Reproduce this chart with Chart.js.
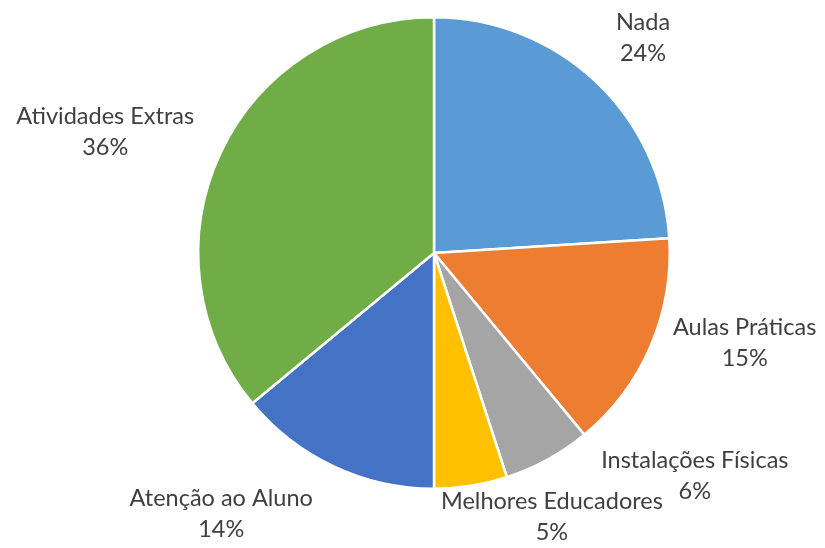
<!DOCTYPE html>
<html lang="pt">
<head>
    <meta charset="UTF-8">
    <script src="https://cdn.jsdelivr.net/npm/chart.js"></script>
    <title>Pie</title>
    <style>
        html, body { margin: 0; padding: 0; background: #fff; }
    </style>
</head>
<body>
    <canvas id="pieChart" width="825" height="548"></canvas>
    <script>
        const categories = ["Nada", "Aulas Práticas", "Instalações Físicas", "Melhores Educadores", "Atenção ao Aluno", "Atividades Extras"];
        const percents = [24, 15, 6, 5, 14, 36];
        const colors = ["#5B9BD5", "#ED7D31", "#A5A5A5", "#FFC000", "#4472C4", "#70AD47"];

        // where each label sits: angle clockwise from top (deg), distance as multiple of radius
        const labelAngle = [44.1, 106.0, 130.5, 155.9, 219.2, 290.3];
        const labelDist = [1.274, 1.371, 1.455, 1.225, 1.428, 1.487];

        const outsideLabels = {
            id: "outsideLabels",
            afterDatasetsDraw(chart) {
                const ctx = chart.ctx;
                const arcs = chart.getDatasetMeta(0).data;
                ctx.save();
                ctx.font = "23.5px Lato, 'Open Sans', sans-serif";
                ctx.fillStyle = "#404040";
                ctx.textAlign = "center";
                ctx.textBaseline = "middle";
                arcs.forEach((arc, i) => {
                    const r = arc.outerRadius * labelDist[i];
                    const a = labelAngle[i] * Math.PI / 180;
                    const x = arc.x + r * Math.sin(a);
                    const y = arc.y - r * Math.cos(a);
                    ctx.fillText(categories[i], x, y - 15);
                    ctx.fillText(percents[i] + "%", x, y + 16);
                });
                ctx.restore();
            }
        };

        new Chart(document.getElementById("pieChart"), {
            type: "pie",
            data: {
                labels: categories,
                datasets: [{
                    data: percents,
                    backgroundColor: colors,
                    borderColor: "#ffffff",
                    borderWidth: 2.5
                }]
            },
            options: {
                responsive: false,
                animation: false,
                layout: { padding: { left: 197, right: 154, top: 16, bottom: 58 } },
                plugins: {
                    legend: { display: false },
                    tooltip: { enabled: false }
                }
            },
            plugins: [outsideLabels]
        });
    </script>
</body>
</html>
